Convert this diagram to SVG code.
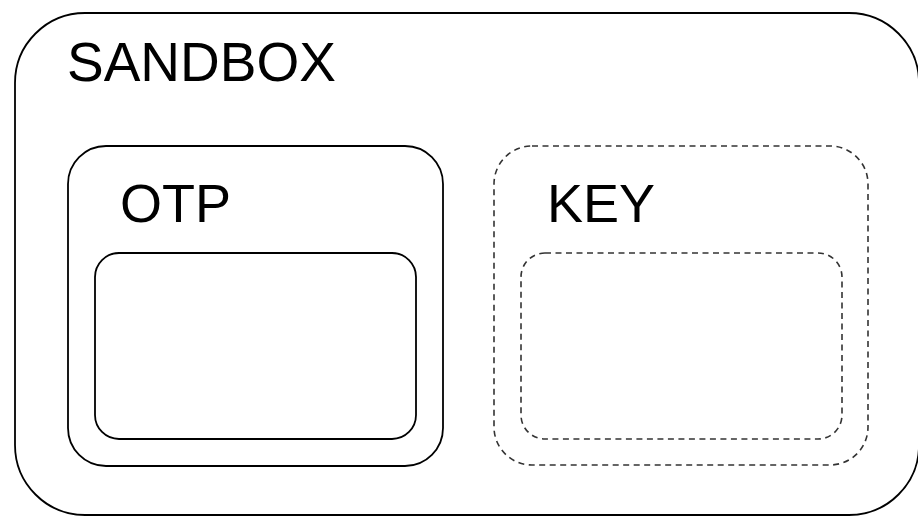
<svg xmlns="http://www.w3.org/2000/svg" width="918" height="516" viewBox="0 0 918 516">
<style>
.solid{fill:none;stroke:#000;stroke-width:1.8}
.dash{fill:none;stroke:#333;stroke-width:1.6;stroke-dasharray:6 4.5}
.lbl{font-family:"Liberation Sans",Arial,sans-serif;font-size:54px;fill:#000}
</style>
<rect x="0" y="0" width="918" height="516" fill="#fff"/>
<g id="sandbox">
<rect class="solid" x="15" y="13" width="904" height="502" rx="70" ry="70"/>
<text class="lbl" x="67" y="81" style="font-size:55px">SANDBOX</text>
</g>
<g id="otp">
<rect class="solid" x="68" y="146" width="375" height="320" rx="38" ry="38"/>
<text class="lbl" x="120" y="222">OTP</text>
</g>
<g id="otp-inner">
<rect class="solid" x="95" y="253" width="321" height="186" rx="24" ry="24"/>
</g>
<g id="key">
<rect class="dash" x="494" y="146" width="374" height="319" rx="38" ry="38"/>
<text class="lbl" x="547" y="222">KEY</text>
</g>
<g id="key-inner">
<rect class="dash" x="521" y="253" width="321" height="186" rx="24" ry="24"/>
</g>
<g id="connectors"></g>
</svg>
